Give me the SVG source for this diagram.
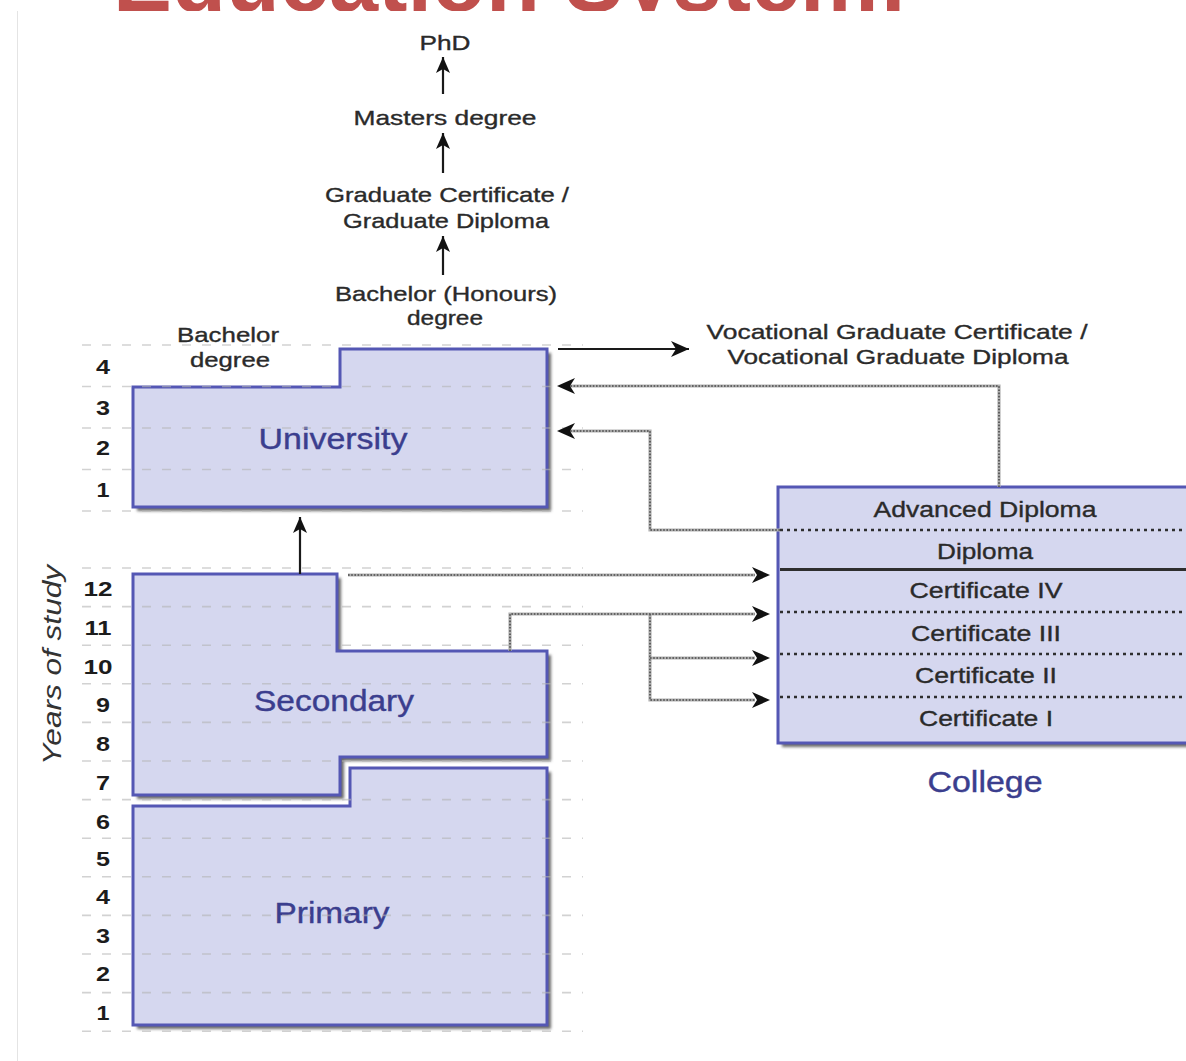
<svg xmlns="http://www.w3.org/2000/svg" width="1186" height="1061" viewBox="0 0 1186 1061">
<defs>
<style>
text{font-family:"Liberation Sans",Arial,sans-serif}
.lbl{font-size:21px;fill:#2a2a2a;stroke:#2a2a2a;stroke-width:0.35;text-anchor:middle}
.cl{font-size:22px;fill:#2a2a2a;stroke:#2a2a2a;stroke-width:0.35;text-anchor:middle}
.num{font-size:20px;font-weight:bold;fill:#1c1c1c;text-anchor:middle}
.big{font-size:30px;fill:#3b3e8e;stroke:#3b3e8e;stroke-width:0.4;text-anchor:middle}
.grid{stroke:#b4b4b4;stroke-width:1.6;stroke-dasharray:9 11;fill:none;opacity:0.6}
.shape{fill:#d5d7ef;stroke:#5457b4;stroke-width:3;stroke-linejoin:miter}
.shadow{fill:#6a6a6a;filter:url(#blur)}
.solid{stroke:#1a1a1a;stroke-width:2.2;fill:none}
.dotbase{stroke:#b2b2b2;stroke-width:3.2;fill:none}
.dots{stroke:#4a4a4a;stroke-width:1.6;stroke-dasharray:1.6 1.6;fill:none}
.rowdot{stroke:#2e2e2e;stroke-width:2.6;stroke-dasharray:3 4;fill:none}
</style>
<filter id="blur" x="-10%" y="-10%" width="120%" height="120%"><feGaussianBlur stdDeviation="1.6"/></filter>
<marker id="ah" markerUnits="userSpaceOnUse" markerWidth="20" markerHeight="18" refX="18" refY="8" orient="auto">
<path d="M0,0 L18,8 L0,16 L5,8 Z" fill="#111"/>
</marker>
<marker id="ahs" markerUnits="userSpaceOnUse" markerWidth="18" markerHeight="16" refX="16" refY="7" orient="auto">
<path d="M0,0 L16,7 L0,14 L4,7 Z" fill="#111"/>
</marker>
</defs>
<rect width="1186" height="1061" fill="#fff"/>
<g id="title">
<text x="113" y="11" font-size="90" font-weight="bold" fill="#c0504d" textLength="795" lengthAdjust="spacingAndGlyphs">Education System:</text>
</g>
<rect x="17" y="11" width="1169" height="1050" fill="#fff"/>
<line x1="17.5" y1="11" x2="17.5" y2="1061" stroke="#e4e4e4" stroke-width="1"/>

<g id="university">
<path class="shadow" d="M137,391 L344,391 L344,353 L551,353 L551,511 L137,511 Z"/>
<path class="shape" d="M133,387 L340,387 L340,349 L547,349 L547,507 L133,507 Z"/>
<text class="big" x="333" y="449" textLength="149" lengthAdjust="spacingAndGlyphs">University</text>
</g>
<g id="primary">
<path class="shadow" d="M354,772 L551,772 L551,1029 L137,1029 L137,810 L354,810 Z"/>
<path class="shape" d="M350,768 L547,768 L547,1025 L133,1025 L133,806 L350,806 Z"/>
<text class="big" x="332" y="923" textLength="115" lengthAdjust="spacingAndGlyphs">Primary</text>
</g>
<g id="secondary">
<path class="shadow" d="M137,578 L341,578 L341,655 L551,655 L551,761 L344,761 L344,799 L137,799 Z"/>
<path class="shape" d="M133,574 L337,574 L337,651 L547,651 L547,757 L340,757 L340,795 L133,795 Z"/>
<text class="big" x="334" y="711" textLength="160" lengthAdjust="spacingAndGlyphs">Secondary</text>
</g>
<g id="college">
<rect class="shadow" x="782" y="491" width="420" height="256"/>
<rect class="shape" x="778" y="487" width="420" height="256"/>
<line class="rowdot" x1="780" y1="530" x2="1186" y2="530"/>
<line x1="780" y1="569.5" x2="1186" y2="569.5" stroke="#2e2e2e" stroke-width="3"/>
<line class="rowdot" x1="780" y1="612" x2="1186" y2="612"/>
<line class="rowdot" x1="780" y1="654" x2="1186" y2="654"/>
<line class="rowdot" x1="780" y1="697" x2="1186" y2="697"/>
<text class="cl" x="985" y="517" textLength="223" lengthAdjust="spacingAndGlyphs">Advanced Diploma</text>
<text class="cl" x="985" y="559" textLength="96" lengthAdjust="spacingAndGlyphs">Diploma</text>
<text class="cl" x="986" y="598" textLength="153" lengthAdjust="spacingAndGlyphs">Certificate IV</text>
<text class="cl" x="986" y="641" textLength="150" lengthAdjust="spacingAndGlyphs">Certificate III</text>
<text class="cl" x="986" y="683" textLength="142" lengthAdjust="spacingAndGlyphs">Certificate II</text>
<text class="cl" x="986" y="726" textLength="134" lengthAdjust="spacingAndGlyphs">Certificate I</text>
<text class="big" x="985" y="792" textLength="115" lengthAdjust="spacingAndGlyphs">College</text>
</g>

<g id="grid">
<line class="grid" x1="82" y1="345" x2="583" y2="345"/>
<line class="grid" x1="82" y1="386.5" x2="583" y2="386.5"/>
<line class="grid" x1="82" y1="428" x2="583" y2="428"/>
<line class="grid" x1="82" y1="469.5" x2="583" y2="469.5"/>
<line class="grid" x1="82" y1="511" x2="583" y2="511"/>
<line class="grid" x1="82" y1="568" x2="583" y2="568"/>
<line class="grid" x1="82" y1="606.6" x2="583" y2="606.6"/>
<line class="grid" x1="82" y1="645.2" x2="583" y2="645.2"/>
<line class="grid" x1="82" y1="683.8" x2="583" y2="683.8"/>
<line class="grid" x1="82" y1="722.4" x2="583" y2="722.4"/>
<line class="grid" x1="82" y1="761" x2="583" y2="761"/>
<line class="grid" x1="82" y1="799.6" x2="583" y2="799.6"/>
<line class="grid" x1="82" y1="838.2" x2="583" y2="838.2"/>
<line class="grid" x1="82" y1="876.8" x2="583" y2="876.8"/>
<line class="grid" x1="82" y1="915.4" x2="583" y2="915.4"/>
<line class="grid" x1="82" y1="954" x2="583" y2="954"/>
<line class="grid" x1="82" y1="992.6" x2="583" y2="992.6"/>
<line class="grid" x1="82" y1="1031.2" x2="583" y2="1031.2"/>
</g>

<g id="axis">
<text class="num" x="103" y="374" textLength="14" lengthAdjust="spacingAndGlyphs">4</text>
<text class="num" x="103" y="415" textLength="14" lengthAdjust="spacingAndGlyphs">3</text>
<text class="num" x="103" y="455" textLength="14" lengthAdjust="spacingAndGlyphs">2</text>
<text class="num" x="103" y="497" textLength="13" lengthAdjust="spacingAndGlyphs">1</text>
<text class="num" x="98" y="596" textLength="29" lengthAdjust="spacingAndGlyphs">12</text>
<text class="num" x="98" y="635" textLength="27" lengthAdjust="spacingAndGlyphs">11</text>
<text class="num" x="98" y="674" textLength="29" lengthAdjust="spacingAndGlyphs">10</text>
<text class="num" x="103" y="712" textLength="14" lengthAdjust="spacingAndGlyphs">9</text>
<text class="num" x="103" y="751" textLength="14" lengthAdjust="spacingAndGlyphs">8</text>
<text class="num" x="103" y="790" textLength="14" lengthAdjust="spacingAndGlyphs">7</text>
<text class="num" x="103" y="829" textLength="14" lengthAdjust="spacingAndGlyphs">6</text>
<text class="num" x="103" y="866" textLength="14" lengthAdjust="spacingAndGlyphs">5</text>
<text class="num" x="103" y="904" textLength="14" lengthAdjust="spacingAndGlyphs">4</text>
<text class="num" x="103" y="943" textLength="14" lengthAdjust="spacingAndGlyphs">3</text>
<text class="num" x="103" y="981" textLength="14" lengthAdjust="spacingAndGlyphs">2</text>
<text class="num" x="103" y="1020" textLength="13" lengthAdjust="spacingAndGlyphs">1</text>
<text transform="translate(61,665) rotate(-90)" font-size="26" font-style="italic" fill="#333" text-anchor="middle" textLength="200" lengthAdjust="spacingAndGlyphs">Years of study</text>
</g>

<g id="phd"><text class="lbl" x="445" y="50" textLength="51" lengthAdjust="spacingAndGlyphs">PhD</text></g>
<g id="masters"><text class="lbl" x="445" y="125" textLength="183" lengthAdjust="spacingAndGlyphs">Masters degree</text></g>
<g id="graduate">
<text class="lbl" x="447" y="202" textLength="244" lengthAdjust="spacingAndGlyphs">Graduate Certificate /</text>
<text class="lbl" x="446" y="228" textLength="206" lengthAdjust="spacingAndGlyphs">Graduate Diploma</text>
</g>
<g id="honours">
<text class="lbl" x="446" y="301" textLength="222" lengthAdjust="spacingAndGlyphs">Bachelor (Honours)</text>
<text class="lbl" x="445" y="325" textLength="76" lengthAdjust="spacingAndGlyphs">degree</text>
</g>
<g id="bachelor">
<text class="lbl" x="228" y="342" textLength="102" lengthAdjust="spacingAndGlyphs">Bachelor</text>
<text class="lbl" x="230" y="367" textLength="80" lengthAdjust="spacingAndGlyphs">degree</text>
</g>
<g id="vocational">
<text class="lbl" x="897" y="339" textLength="381" lengthAdjust="spacingAndGlyphs">Vocational Graduate Certificate /</text>
<text class="lbl" x="898" y="364" textLength="341" lengthAdjust="spacingAndGlyphs">Vocational Graduate Diploma</text>
</g>

<g id="connectors">
<path class="solid" d="M443,94 V57" marker-end="url(#ahs)"/>
<path class="solid" d="M443,173 V133" marker-end="url(#ahs)"/>
<path class="solid" d="M443,275 V236" marker-end="url(#ahs)"/>
<path class="solid" d="M558,349 H689" marker-end="url(#ah)"/>
<path class="solid" d="M300,574 V517" marker-end="url(#ahs)"/>

<path class="dotbase" d="M999,487 V386 H570"/>
<path class="dots" d="M999,487 V386 H570"/>
<path class="dotbase" d="M780,530 H650 V431 H570"/>
<path class="dots" d="M780,530 H650 V431 H570"/>
<path class="dotbase" d="M348,575 H755"/>
<path class="dots" d="M348,575 H755"/>
<path class="dotbase" d="M510,651 V614 H755"/>
<path class="dots" d="M510,651 V614 H755"/>
<path class="dotbase" d="M650,614 V700 H755"/>
<path class="dots" d="M650,614 V700 H755"/>
<path class="dotbase" d="M650,658 H755"/>
<path class="dots" d="M650,658 H755"/>
<path d="M570,386 H557" stroke="none" fill="none" marker-end="url(#ah)"/>
<path d="M570,431 H557" stroke="none" fill="none" marker-end="url(#ah)"/>
<path d="M755,575 H770" stroke="none" fill="none" marker-end="url(#ah)"/>
<path d="M755,614 H770" stroke="none" fill="none" marker-end="url(#ah)"/>
<path d="M755,658 H770" stroke="none" fill="none" marker-end="url(#ah)"/>
<path d="M755,700 H770" stroke="none" fill="none" marker-end="url(#ah)"/>
</g>
</svg>
